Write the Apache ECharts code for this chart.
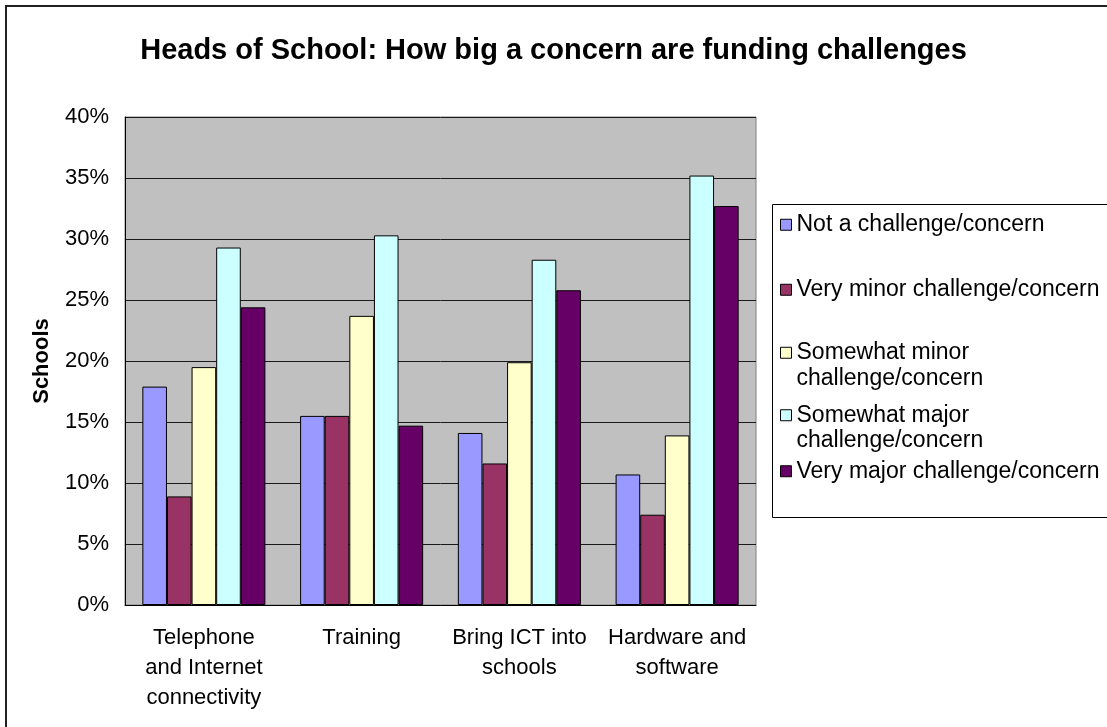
<!DOCTYPE html>
<html><head><meta charset="utf-8">
<script src="https://cdn.jsdelivr.net/npm/echarts@6/dist/echarts.min.js"></script>
<style>html,body{margin:0;padding:0;background:#fff}#c{width:1107px;height:727px}</style>
</head><body><div id="c"></div>
<script>
const titleText = 'Heads of School: How big a concern are funding challenges';
const categories = ['Telephone\nand Internet\nconnectivity', 'Training', 'Bring ICT into\nschools', 'Hardware and\nsoftware'];
const seriesNames = ['Not a challenge/concern', 'Very minor challenge/concern', 'Somewhat minor challenge/concern', 'Somewhat major challenge/concern', 'Very major challenge/concern'];
const legendLabels = ['Not a challenge/concern', 'Very minor challenge/concern', '\nSomewhat minor\nchallenge/concern', '\nSomewhat major\nchallenge/concern', 'Very major challenge/concern'];
const notChallenge = [17.9, 15.5, 14.1, 10.7];
const veryMinor = [8.9, 15.5, 11.6, 7.4];
const somewhatMinor = [19.5, 23.7, 19.9, 13.9];
const somewhatMajor = [29.3, 30.3, 28.3, 35.2];
const veryMajor = [24.4, 14.7, 25.8, 32.7];
const seriesValues = [notChallenge, veryMinor, somewhatMinor, somewhatMajor, veryMajor];
const colors = ['#9999FF', '#993366', '#FFFFCC', '#CCFFFF', '#660066'];
const yMin = 0, yMax = 40, yInterval = 5;

const FONT = '"Liberation Sans", Arial, sans-serif';
const legendTops = [212, 277, 314.5, 377, 458.5];

const chart = echarts.init(document.getElementById('c'), null, {renderer: 'canvas'});
const legends = seriesNames.map((n, i) => ({
  data: [n],
  left: 780,
  top: legendTops[i],
  padding: 0,
  orient: 'vertical',
  icon: 'rect',
  itemWidth: 11,
  itemHeight: 11,
  selectedMode: false,
  formatter: () => legendLabels[i],
  itemStyle: {borderColor: '#000', borderWidth: 1},
  textStyle: {fontFamily: FONT, fontSize: 23, color: '#000', lineHeight: 25.5}
}));

chart.setOption({
  animation: false,
  color: colors,
  title: {
    text: titleText, left: 'center', top: 36, padding: 0,
    textStyle: {fontFamily: FONT, fontSize: 29, fontWeight: 'bold', color: '#000'}
  },
  legend: legends,
  grid: {left: 125, right: 351, top: 117, bottom: 122, show: true,
    backgroundColor: '#C0C0C0', borderColor: '#808080', borderWidth: 1},
  xAxis: {
    type: 'category', data: categories,
    axisLine: {lineStyle: {color: '#000', width: 1}},
    axisTick: {show: false},
    axisLabel: {fontFamily: FONT, fontSize: 22, color: '#000', lineHeight: 30, margin: 18, interval: 0}
  },
  yAxis: {
    type: 'value', min: yMin, max: yMax, interval: yInterval,
    name: 'Schools', nameLocation: 'middle', nameGap: 72,
    nameTextStyle: {fontFamily: FONT, fontSize: 22, fontWeight: 'bold', color: '#000'},
    axisLine: {show: true, lineStyle: {color: '#000', width: 1}},
    axisTick: {show: false},
    axisLabel: {fontFamily: FONT, fontSize: 22, color: '#000', margin: 16, formatter: '{value}%'},
    splitLine: {lineStyle: {color: '#1a1a1a', width: 1}}
  },
  series: seriesNames.map((n, i) => ({
    name: n, type: 'bar', data: seriesValues[i],
    barGap: '0%', barCategoryGap: '22%',
    itemStyle: {color: colors[i], borderColor: '#000', borderWidth: 1}
  })),
  graphic: [
    {type: 'rect', shape: {x: 6, y: 6, width: 1200, height: 800}, silent: true,
      style: {fill: 'none', stroke: '#222', lineWidth: 2}},
    {type: 'rect', shape: {x: 772.5, y: 204.5, width: 400, height: 313}, silent: true,
      style: {fill: 'none', stroke: '#000', lineWidth: 1}}
  ]
});
</script></body></html>
